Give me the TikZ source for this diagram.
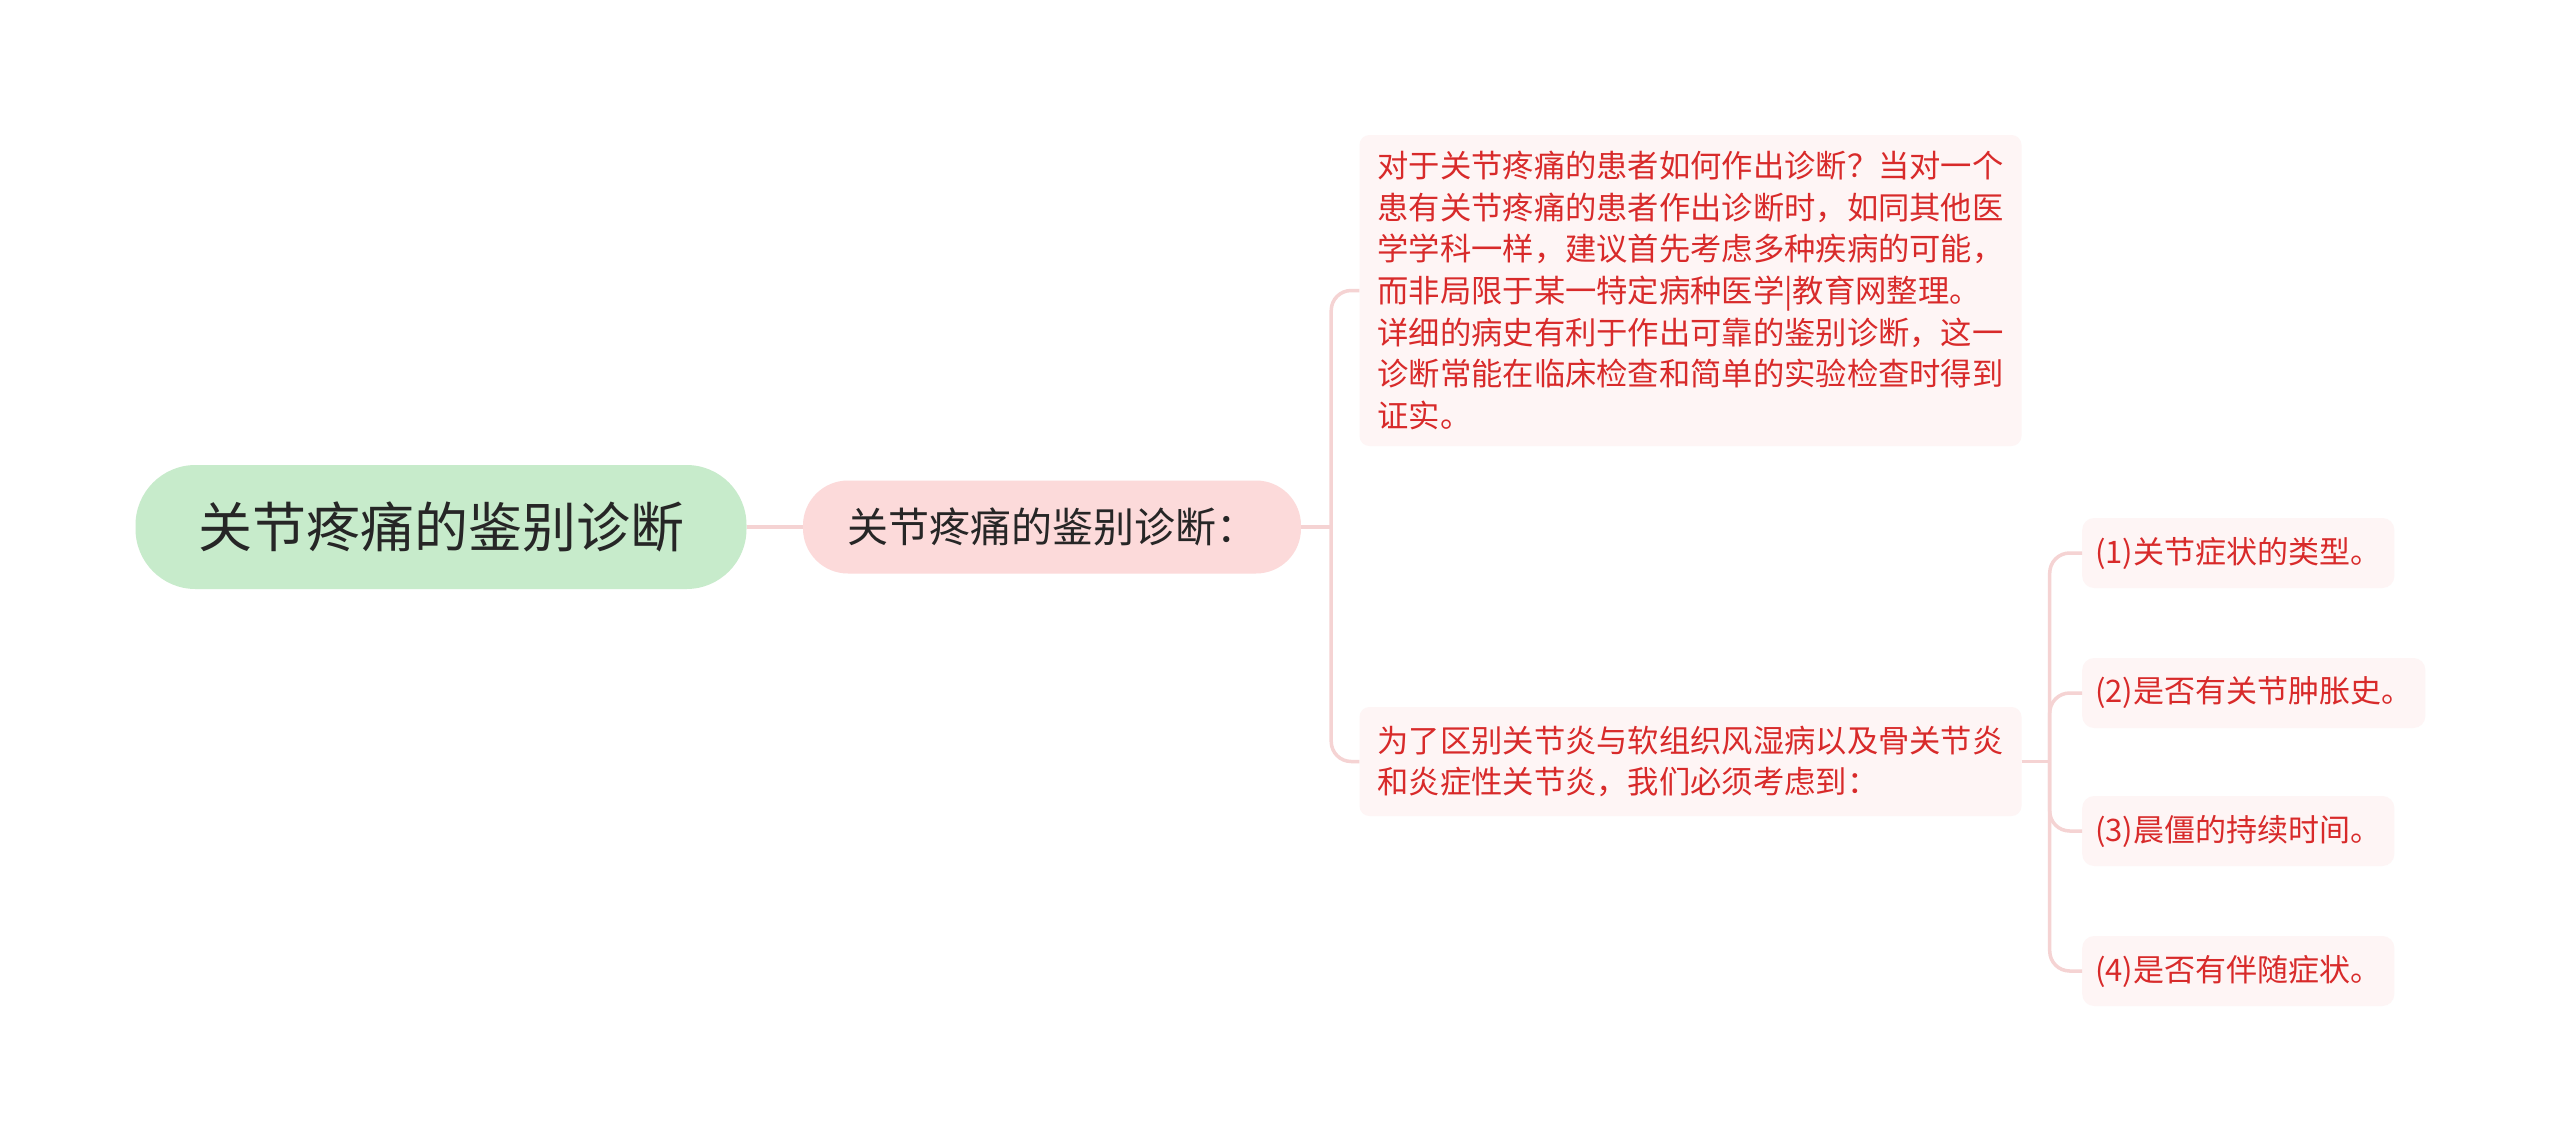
\documentclass[tikz,border=0pt]{standalone}
\usepackage{fontspec}
\setmainfont{Noto Sans CJK SC}
\usetikzlibrary{calc}

\definecolor{rootgreen}{HTML}{C7EBCB}
\definecolor{subpink}{HTML}{FCDADA}
\definecolor{leafpink}{HTML}{FEF5F5}
\definecolor{linkpink}{HTML}{F5D3D3}
\definecolor{leafred}{HTML}{D82A2A}
\definecolor{darktext}{HTML}{262626}

\begin{document}
\begin{tikzpicture}[x=1pt, y=-1pt,
  link/.style={draw=linkpink, line width=3.5pt},
  elbow/.style={link, rounded corners=20pt},
  textbox/.style={fill=leafpink, rounded corners=10pt, text=leafred,
    font=\fontsize{31.3}{41.6}\selectfont, align=left, text width=626pt,
    inner xsep=18pt, inner ysep=0pt, minimum width=661pt},
  leaf/.style={fill=leafpink, rounded corners=12pt, text=leafred,
    font=\fontsize{31}{41.6}\selectfont, inner xsep=13pt, inner ysep=0pt,
    minimum height=70pt, anchor=west}]

% canvas, same size as the reference
\fill[white] (0,0) rectangle (2560,1141);
\useasboundingbox (0,0) rectangle (2560,1141);

% root and first level
\node[fill=rootgreen, rounded corners=60pt, minimum width=611pt, minimum height=124pt,
  text=darktext, font=\fontsize{54}{66}\selectfont] (root) at (441,527) {关节疼痛的鉴别诊断};
\node[fill=subpink, rounded corners=45pt, minimum width=498pt, minimum height=93pt,
  text=darktext, font=\fontsize{41}{50}\selectfont] (sub) at (1052,527) {关节疼痛的鉴别诊断：};

% second level
\node[textbox, minimum height=311pt] (why) at (1690.5,290.5)
  {对于关节疼痛的患者如何作出诊断？当对一个\\
   患有关节疼痛的患者作出诊断时，如同其他医\\
   学学科一样，建议首先考虑多种疾病的可能，\\
   而非局限于某一特定病种医学|教育网整理。\\
   详细的病史有利于作出可靠的鉴别诊断，这一\\
   诊断常能在临床检查和简单的实验检查时得到\\
   证实。};
\node[textbox, minimum height=109pt] (need) at (1690.5,761.5)
  {为了区别关节炎与软组织风湿病以及骨关节炎\\
   和炎症性关节炎，我们必须考虑到：};

% leaves
\foreach \y/\txt [count=\i] in {553/(1)关节症状的类型。, 693/(2)是否有关节肿胀史。,
    831/(3)晨僵的持续时间。, 971/(4)是否有伴随症状。}
  \node[leaf] (item\i) at (2082,\y) {\txt};

% connectors
\coordinate (j1) at ($(sub.east)+(30,0)$);
\coordinate (j2) at ($(need.east)+(28,0)$);
\draw[link] (root.east) -- (sub.west);
\draw[link] (sub.east) -- (j1);
\draw[elbow] (j1) |- (why.west);
\draw[elbow] (j1) |- (need.west);
\draw[link] (need.east) -- (j2);
\foreach \i in {1,...,4}
  \draw[elbow] (j2) |- (item\i.west);

\end{tikzpicture}
\end{document}
